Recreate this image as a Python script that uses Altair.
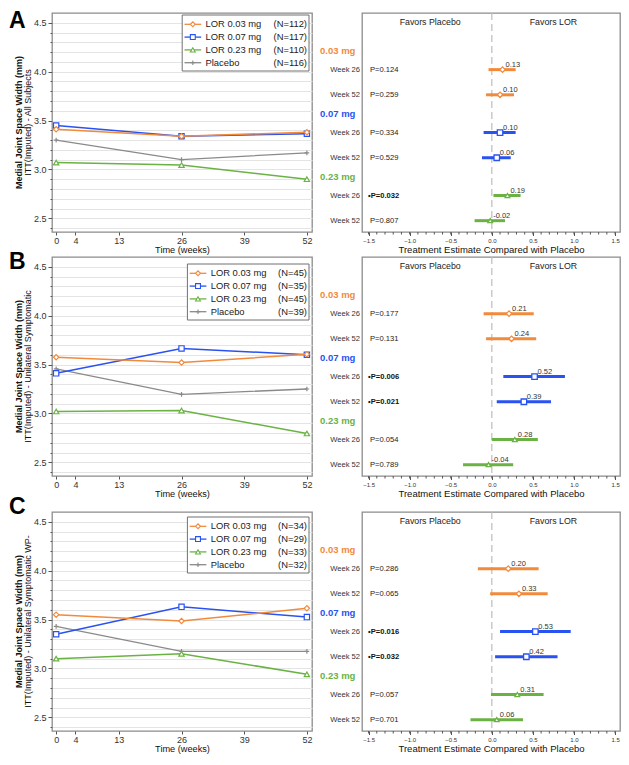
import altair as alt
import pandas as pd

FONT = "Liberation Sans"

# ---------------- shared categories ----------------
weeks = [0, 26, 52]
x_ticks = [0, 4, 13, 26, 39, 52]
series_names = ["LOR 0.03 mg", "LOR 0.07 mg", "LOR 0.23 mg", "Placebo"]
series_colors = ["#F28A3C", "#2952F2", "#6AB244", "#8A8A8A"]
series_shapes = ["diamond", "square", "triangle-up", "M0,-1V1M-1,0H1"]
dose_labels = ["0.03 mg", "0.07 mg", "0.23 mg"]
week_labels = ["Week 26", "Week 52"]
panel_letters = ["A", "B", "C"]
population_titles = [
    "ITT(Imputed) - All Subjects",
    "ITT(Imputed) - Unilateral Symptomatic",
    "ITT(Imputed) - Unilateral Symptomatic WP-",
]
effect_major_ticks = [-1.5, -1.0, -0.5, 0.0, 0.5, 1.0, 1.5]
effect_minor_ticks = [round(-1.5 + 0.1 * i, 1) for i in range(31)]

# ---------------- N per arm ----------------
n_A = [112, 117, 110, 116]
n_B = [45, 35, 45, 39]
n_C = [34, 29, 33, 32]

# ---------------- medial JSW (mm) at weeks 0, 26, 52 ----------------
jsw_A_003 = [3.41, 3.34, 3.38]
jsw_A_007 = [3.45, 3.34, 3.365]
jsw_A_023 = [3.07, 3.045, 2.90]
jsw_A_pbo = [3.30, 3.10, 3.17]
jsw_B_003 = [3.575, 3.52, 3.605]
jsw_B_007 = [3.41, 3.665, 3.60]
jsw_B_023 = [3.02, 3.03, 2.795]
jsw_B_pbo = [3.455, 3.195, 3.25]
jsw_C_003 = [3.55, 3.485, 3.615]
jsw_C_007 = [3.35, 3.63, 3.525]
jsw_C_023 = [3.10, 3.15, 2.94]
jsw_C_pbo = [3.43, 3.175, 3.175]

# ---------------- treatment estimates vs placebo ----------------
# order: 0.03 W26, 0.03 W52, 0.07 W26, 0.07 W52, 0.23 W26, 0.23 W52
est_A = [0.13, 0.10, 0.10, 0.06, 0.19, -0.02]
lo_A = [-0.04, -0.07, -0.10, -0.12, 0.02, -0.21]
hi_A = [0.29, 0.27, 0.29, 0.23, 0.35, 0.16]
p_A = ["0.124", "0.259", "0.334", "0.529", "0.032", "0.807"]

est_B = [0.21, 0.24, 0.52, 0.39, 0.28, -0.04]
lo_B = [-0.10, -0.07, 0.14, 0.06, 0.00, -0.35]
hi_B = [0.51, 0.54, 0.89, 0.72, 0.56, 0.26]
p_B = ["0.177", "0.131", "0.006", "0.021", "0.054", "0.789"]

est_C = [0.20, 0.33, 0.53, 0.42, 0.31, 0.06]
lo_C = [-0.17, -0.02, 0.10, 0.04, -0.01, -0.26]
hi_C = [0.57, 0.68, 0.96, 0.80, 0.63, 0.38]
p_C = ["0.286", "0.065", "0.016", "0.032", "0.057", "0.701"]

row_pos = [3, 7, 13, 17, 23, 27]
header_pos = [0, 10, 20]

jsw = [
    [jsw_A_003, jsw_A_007, jsw_A_023, jsw_A_pbo],
    [jsw_B_003, jsw_B_007, jsw_B_023, jsw_B_pbo],
    [jsw_C_003, jsw_C_007, jsw_C_023, jsw_C_pbo],
]
ns = [n_A, n_B, n_C]
forest = [(est_A, lo_A, hi_A, p_A), (est_B, lo_B, hi_B, p_B), (est_C, lo_C, hi_C, p_C)]

WL, WR, H = 260, 258, 219
legend_tops = [2, 7, 5]
letter_y = [-3, -6, -16]
one = pd.DataFrame({"k": [0]})

major_half = "abs(datum.value*2 - round(datum.value*2)) < 0.001"


def left_panel(k):
    rows = []
    for s, vals in zip(series_names, jsw[k]):
        for w, v in zip(weeks, vals):
            rows.append({"series": s, "week": w, "value": v})
    df = pd.DataFrame(rows)
    yvals = [round(2.4 + 0.1 * i, 1) for i in range(22)]
    base = alt.Chart(df).encode(
        x=alt.X("week:Q", scale=alt.Scale(domain=[-0.86, 53.06], nice=False, zero=False),
                axis=alt.Axis(values=x_ticks, title="Time (weeks)", grid=False, tickSize=3,
                              labelPadding=1, labelFontSize=9, titleFontSize=9.2,
                              titlePadding=0, format="d", labelOverlap=False)),
        y=alt.Y("value:Q", scale=alt.Scale(domain=[2.36, 4.6], nice=False, zero=False),
                axis=alt.Axis(values=yvals, title=None, grid=True, gridColor="#e4e4e4",
                              gridWidth=1, labelFontSize=9, labelPadding=2, labelOverlap=False,
                              tickSize={"condition": {"test": major_half, "value": 4}, "value": 2},
                              labelExpr=major_half + " ? format(datum.value, '.1f') : ''")),
    )
    layers = []
    order = [3, 2, 1, 0]
    for i in order:
        s, c, shp = series_names[i], series_colors[i], series_shapes[i]
        sub = base.transform_filter(alt.datum.series == s)
        layers.append(sub.mark_line(color=c, strokeWidth=1.5 if i < 3 else 1.3))
        layers.append(sub.mark_point(shape=shp, filled=False, fill="white", fillOpacity=1,
                                     stroke=c, strokeWidth=1.2, size=28 if i < 3 else 22,
                                     opacity=1))
    # legend (drawn from the series arrays)
    top = legend_tops[k]
    nd = max(len(str(n)) for n in ns[k])
    box_r = WL - 3
    box_l = box_r - (121.6 + 5.2 * (nd - 2))
    lg = alt.Chart(one)
    layers.append(lg.mark_rect(fill="white", stroke="#707070", strokeWidth=1).encode(
        x=alt.value(box_l), x2=alt.value(box_r), y=alt.value(top), y2=alt.value(top + 56)))
    for i, (s, c, shp, n) in enumerate(zip(series_names, series_colors, series_shapes, ns[k])):
        yy = top + 9.3 + 12.8 * i
        layers.append(lg.mark_rule(color=c, strokeWidth=1.3).encode(
            x=alt.value(box_l + 2.3), x2=alt.value(box_l + 19), y=alt.value(yy)))
        layers.append(lg.mark_point(shape=shp, filled=False, fill="white", fillOpacity=1,
                                    stroke=c, strokeWidth=1.1, size=24 if i < 3 else 20,
                                    opacity=1).encode(x=alt.value(box_l + 10.6), y=alt.value(yy)))
        layers.append(lg.mark_text(align="left", baseline="middle", fontSize=9.4, color="#222").encode(
            x=alt.value(box_l + 23.3), y=alt.value(yy), text=alt.value(s)))
        layers.append(lg.mark_text(align="right", baseline="middle", fontSize=9.4, color="#222").encode(
            x=alt.value(box_r - 2), y=alt.value(yy), text=alt.value(f"(N={n})")))
    # y title (two lines) and panel letter
    layers.append(lg.mark_text(angle=270, fontSize=9, fontWeight="bold", color="#111",
                               baseline="middle").encode(
        x=alt.value(-33), y=alt.value(H / 2), text=alt.value("Medial Joint Space Width (mm)")))
    layers.append(lg.mark_text(angle=270, fontSize=9, color="#111", baseline="middle").encode(
        x=alt.value(-24.5), y=alt.value(H / 2), text=alt.value(population_titles[k])))
    layers.append(lg.mark_text(fontSize=23, fontWeight="bold", color="#000", align="left",
                               baseline="top").encode(
        x=alt.value(-43), y=alt.value(letter_y[k]), text=alt.value(panel_letters[k])))
    return alt.layer(*layers).properties(width=WL, height=H)


def right_panel(k):
    est, lo, hi, p = forest[k]
    rows = []
    for j in range(6):
        g = j // 2
        sig = float(p[j]) < 0.05
        rows.append({
            "pos": row_pos[j], "est": est[j], "lo": lo[j], "hi": hi[j],
            "col": series_colors[g], "grp": dose_labels[g], "wk": week_labels[j % 2],
            "lab": f"{est[j]:.2f}", "ptxt": ("\u2022P=" if sig else "P=") + p[j], "sig": sig,
        })
    df = pd.DataFrame(rows)
    hdr = pd.DataFrame({"pos": header_pos, "lab": dose_labels, "col": series_colors[:3]})
    fav = pd.DataFrame({"x": [-0.75, 0.75], "pos": [-4.6, -4.6],
                        "lab": ["Favors Placebo", "Favors LOR"]})
    minor = pd.DataFrame({"t": effect_minor_ticks})
    xs = alt.Scale(domain=[-1.58, 1.56], nice=False, zero=False)
    ys = alt.Scale(domain=[-6.0, 28.8], nice=False, zero=False, reverse=True)
    xaxis = alt.Axis(values=effect_major_ticks, title="Treatment Estimate Compared with Placebo",
                     grid=False, labelFontSize=6, labelPadding=2, titleFontSize=9.5,
                     titlePadding=1, labelOverlap=False, labelFlush=False, tickSize=3.5,
                     format=".1f")
    zero = alt.Chart(pd.DataFrame({"z": [0.0]})).mark_rule(
        color="#bdbdbd", strokeDash=[7, 4], strokeWidth=1.2).encode(
        x=alt.X("z:Q", scale=xs, axis=xaxis))
    minor_ticks = alt.Chart(minor).mark_rule(color="#555", strokeWidth=1).encode(
        x=alt.X("t:Q", scale=xs), y=alt.value(H), y2=alt.value(H + 2.5))
    base = alt.Chart(df).encode(y=alt.Y("pos:Q", scale=ys, axis=None))
    ci = base.mark_rule(strokeWidth=3).encode(
        x=alt.X("lo:Q", scale=xs), x2="hi:Q", color=alt.Color("col:N", scale=None))
    pts = []
    for g in range(3):
        pts.append(base.transform_filter(alt.datum.grp == dose_labels[g]).mark_point(
            shape=series_shapes[g], filled=False, fill="white", fillOpacity=1,
            stroke=series_colors[g], strokeWidth=1.3, size=30 if g < 2 else 22, opacity=1
        ).encode(x=alt.X("est:Q", scale=xs)))
    vals = base.mark_text(align="left", baseline="middle", dx=3, dy=-5, fontSize=7.5,
                          color="#333").encode(x=alt.X("est:Q", scale=xs), text="lab:N")
    p_norm = base.transform_filter("!datum.sig").mark_text(
        align="left", baseline="middle", fontSize=7.6, color="#222").encode(
        x=alt.value(8), text="ptxt:N")
    p_sig = base.transform_filter("datum.sig").mark_text(
        align="left", baseline="middle", fontSize=7.6, fontWeight="bold", color="#111").encode(
        x=alt.value(6), text="ptxt:N")
    wks = base.mark_text(align="right", baseline="middle", fontSize=7.6, color="#333").encode(
        x=alt.value(-2), text="wk:N")
    hdrs = alt.Chart(hdr).mark_text(align="left", baseline="middle", fontSize=9.5,
                                    fontWeight="bold").encode(
        x=alt.value(-42), y=alt.Y("pos:Q", scale=ys, axis=None), text="lab:N",
        color=alt.Color("col:N", scale=None))
    favs = alt.Chart(fav).mark_text(baseline="middle", fontSize=8.8, color="#222").encode(
        x=alt.X("x:Q", scale=xs), y=alt.Y("pos:Q", scale=ys, axis=None), text="lab:N")
    return alt.layer(zero, minor_ticks, ci, *pts, vals, p_norm, p_sig, wks, hdrs, favs).properties(
        width=WR, height=H)


rows = [alt.hconcat(left_panel(k), right_panel(k), spacing=6) for k in range(3)]
chart = alt.vconcat(alt.vconcat(rows[0], rows[1], spacing=-5), rows[2], spacing=-4).properties(
    padding={"left": 0, "top": 1, "right": 0, "bottom": 0}
).configure_view(stroke="#8c8c8c", strokeWidth=1.3).configure_axis(
    domain=False, labelFont=FONT, titleFont=FONT, tickColor="#555", labelColor="#333",
    titleColor="#111", titleFontWeight="normal"
).configure_text(font=FONT)

chart.save("out.html", embed_options={"renderer": "svg", "actions": False})
